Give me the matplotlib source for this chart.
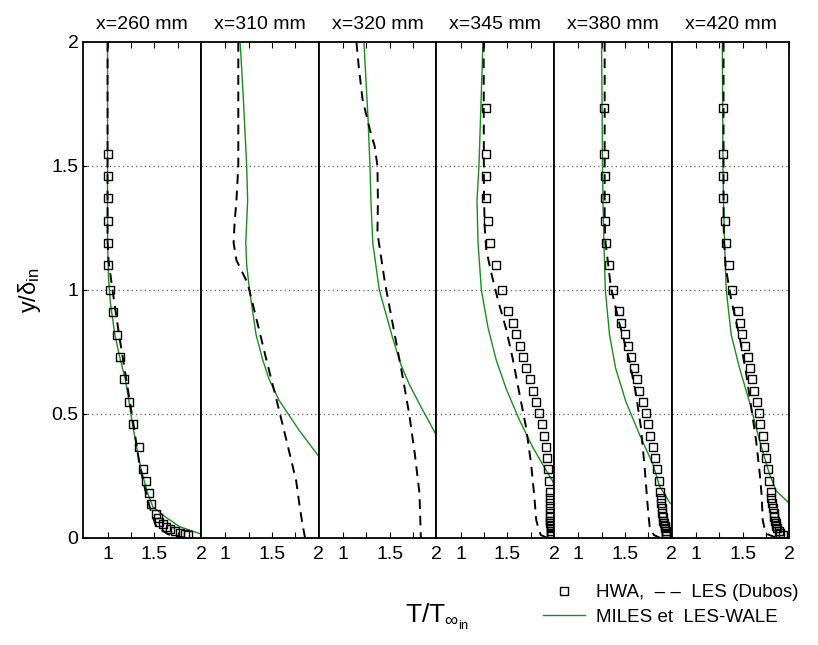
import numpy as np
import matplotlib
matplotlib.use("Agg")
import matplotlib.pyplot as plt
from matplotlib.lines import Line2D

plt.rcParams['font.family'] = ['Liberation Sans', 'DejaVu Sans']
plt.rcParams['mathtext.default'] = 'regular'

titles = ["x=260 mm", "x=310 mm", "x=320 mm", "x=345 mm", "x=380 mm", "x=420 mm"]

# --- HWA (squares) ---
hwa_y1 = [1.55, 1.46, 1.37, 1.28, 1.19, 1.10, 1.0, 0.91, 0.82, 0.73, 0.64, 0.55, 0.46, 0.365,
          0.277, 0.23, 0.183, 0.137, 0.096, 0.079, 0.066, 0.055, 0.046, 0.036, 0.028, 0.021, 0.016, 0.012]
hwa_t1 = [1.0, 1.0, 1.0, 1.0, 1.0, 1.006, 1.024, 1.053, 1.096, 1.134, 1.18, 1.23, 1.277, 1.333,
          1.383, 1.414, 1.443, 1.468, 1.521, 1.538, 1.556, 1.591, 1.627, 1.673, 1.727, 1.78, 1.833, 1.857]

hwa_y456 = [1.735, 1.55, 1.46, 1.37, 1.28, 1.19, 1.10, 1.0, 0.915, 0.868, 0.821, 0.776, 0.731, 0.687,
            0.64, 0.594, 0.547, 0.503, 0.458, 0.412, 0.366, 0.321, 0.277, 0.23, 0.187, 0.16, 0.14,
            0.12, 0.10, 0.085, 0.07, 0.06, 0.05, 0.04, 0.03, 0.02, 0.012]
hwa_t4 = [1.276, 1.27, 1.27, 1.276, 1.29, 1.318, 1.376, 1.447, 1.51, 1.56, 1.596, 1.635, 1.67, 1.70,
          1.74, 1.777, 1.81, 1.84, 1.868, 1.889, 1.914, 1.925, 1.939, 1.946, 1.953, 1.955, 1.957,
          1.958, 1.96, 1.96, 1.962, 1.962, 1.964, 1.965, 1.966, 1.967, 1.968]
hwa_t5 = [1.272, 1.272, 1.283, 1.283, 1.283, 1.30, 1.325, 1.37, 1.435, 1.46, 1.503, 1.538, 1.566, 1.60,
          1.63, 1.652, 1.69, 1.725, 1.75, 1.77, 1.796, 1.82, 1.84, 1.86, 1.875, 1.882, 1.89,
          1.895, 1.90, 1.907, 1.913, 1.92, 1.925, 1.93, 1.935, 1.94, 1.945]
hwa_t6 = [1.289, 1.289, 1.289, 1.295, 1.307, 1.325, 1.353, 1.389, 1.449, 1.474, 1.495, 1.53, 1.555, 1.58,
          1.60, 1.626, 1.65, 1.672, 1.687, 1.714, 1.733, 1.75, 1.768, 1.786, 1.80, 1.808, 1.815,
          1.823, 1.832, 1.84, 1.848, 1.855, 1.862, 1.87, 1.885, 1.905, 1.935]

# --- LES (Dubos), dashed ---
les_t1 = [1.0, 1.0, 1.01, 1.053, 1.123, 1.2, 1.277, 1.34, 1.40, 1.45, 1.52, 1.65, 1.84]
les_y1 = [2.0, 1.2, 1.12, 1.0, 0.82, 0.64, 0.46, 0.30, 0.20, 0.126, 0.046, 0.015, 0.0]
les_t2 = [1.14, 1.14, 1.12, 1.10, 1.09, 1.12, 1.24, 1.33, 1.44, 1.55, 1.655, 1.76, 1.80, 1.83, 1.855]
les_y2 = [2.0, 1.5, 1.36, 1.27, 1.19, 1.12, 1.027, 0.89, 0.72, 0.556, 0.395, 0.23, 0.12, 0.05, 0.0]
les_t3 = [1.145, 1.17, 1.21, 1.29, 1.34, 1.37, 1.375, 1.37, 1.45, 1.54, 1.64, 1.71, 1.77, 1.82, 1.835]
les_y3 = [2.0, 1.9, 1.77, 1.645, 1.58, 1.5, 1.36, 1.23, 1.03, 0.85, 0.65, 0.50, 0.34, 0.18, 0.0]
les_t4 = [1.247, 1.25, 1.258, 1.276, 1.33, 1.40, 1.49, 1.56, 1.63, 1.70, 1.755, 1.79, 1.81, 1.84, 1.86, 1.93]
les_y4 = [2.0, 1.4, 1.255, 1.16, 1.067, 0.96, 0.84, 0.72, 0.583, 0.449, 0.30, 0.167, 0.073, 0.03, 0.012, 0.0]
les_t5 = [1.283, 1.283, 1.29, 1.35, 1.44, 1.546, 1.617, 1.67, 1.71, 1.735, 1.75, 1.765, 1.81, 1.88]
les_y5 = [2.0, 1.3, 1.2, 1.01, 0.866, 0.718, 0.583, 0.449, 0.29, 0.17, 0.10, 0.046, 0.012, 0.0]
les_t6 = [1.296, 1.296, 1.30, 1.318, 1.378, 1.467, 1.538, 1.591, 1.644, 1.687, 1.705, 1.715, 1.74, 1.768, 1.87]
les_y6 = [2.0, 1.3, 1.2, 1.094, 0.96, 0.812, 0.664, 0.53, 0.395, 0.247, 0.167, 0.073, 0.03, 0.015, 0.0]

# --- MILES et LES-WALE, green ---
mil_t1 = [1.0, 1.0, 1.0, 1.01, 1.03, 1.078, 1.13, 1.19, 1.23, 1.266, 1.31, 1.357, 1.43, 1.485, 1.627, 1.77, 2.0]
mil_y1 = [2.0, 1.5, 1.2, 1.05, 0.95, 0.82, 0.73, 0.64, 0.55, 0.46, 0.37, 0.28, 0.18, 0.126, 0.083, 0.046, 0.016]
mil_t2 = [1.16, 1.19, 1.23, 1.24, 1.22, 1.23, 1.26, 1.33, 1.40, 1.47, 1.575, 1.79, 2.0]
mil_y2 = [2.0, 1.8, 1.5, 1.36, 1.19, 1.10, 1.0, 0.82, 0.72, 0.64, 0.556, 0.435, 0.33]
mil_t3 = [1.225, 1.268, 1.29, 1.30, 1.32, 1.39, 1.53, 1.62, 1.71, 1.82, 2.0]
mil_y3 = [2.0, 1.7, 1.5, 1.36, 1.19, 1.0, 0.81, 0.70, 0.62, 0.54, 0.415]
mil_t4 = [1.24, 1.197, 1.176, 1.187, 1.223, 1.293, 1.38, 1.49, 1.63, 1.77, 1.914, 2.0]
mil_y4 = [2.0, 1.5, 1.36, 1.19, 1.0, 0.85, 0.72, 0.60, 0.476, 0.368, 0.274, 0.22]
mil_t5 = [1.25, 1.26, 1.265, 1.275, 1.29, 1.335, 1.40, 1.51, 1.655, 1.80, 1.87, 1.985]
mil_y5 = [2.0, 1.5, 1.36, 1.19, 1.0, 0.82, 0.685, 0.55, 0.418, 0.297, 0.21, 0.14]
mil_t6 = [1.283, 1.29, 1.296, 1.307, 1.325, 1.378, 1.467, 1.573, 1.68, 1.786, 1.86, 2.0]
mil_y6 = [2.0, 1.5, 1.36, 1.19, 1.0, 0.82, 0.685, 0.55, 0.395, 0.26, 0.19, 0.14]

hwa = [(hwa_t1, hwa_y1), None, None, (hwa_t4, hwa_y456), (hwa_t5, hwa_y456), (hwa_t6, hwa_y456)]
les = [(les_t1, les_y1), (les_t2, les_y2), (les_t3, les_y3), (les_t4, les_y4), (les_t5, les_y5), (les_t6, les_y6)]
mil = [(mil_t1, mil_y1), (mil_t2, mil_y2), (mil_t3, mil_y3), (mil_t4, mil_y4), (mil_t5, mil_y5), (mil_t6, mil_y6)]

fig, axes = plt.subplots(1, 6, figsize=(8.18, 6.45), dpi=100, sharey=True)
fig.subplots_adjust(left=0.1018, right=0.9649, top=0.9349, bottom=0.1659, wspace=0)

for i, ax in enumerate(axes):
    for yg in [0.5, 1.0, 1.5]:
        ax.axhline(yg, color='0.35', lw=0.9, ls=(0, (1, 2.5)), zorder=1)
    t, y = mil[i]
    ax.plot(t, y, color='#1c8c1c', lw=1.0, zorder=2)
    t, y = les[i]
    ax.plot(t, y, color='k', lw=1.4, ls=(0, (5, 3.5)), zorder=3)
    if hwa[i] is not None:
        t, y = hwa[i]
        ax.plot(t, y, ls='none', marker='s', ms=5.6, mfc='none', mec='k', mew=1.0, zorder=4)
    ax.set_xlim(0.74, 2.0)
    ax.set_ylim(0, 2)
    ax.set_xticks([1, 1.5, 2])
    ax.set_xticklabels(["1", "1.5", "2"])
    ax.set_xticks([1.25, 1.75], minor=True)
    ax.tick_params(axis='x', which='both', direction='in', top=True, length=4, width=0.8,
                   labelsize=14, pad=6)
    ax.tick_params(axis='y', which='both', direction='in', left=(i == 0), right=False,
                   length=3, width=0.8, labelsize=14)
    for sp in ax.spines.values():
        sp.set_linewidth(1.3)
    ax.set_title(titles[i], fontsize=14, pad=9)

axes[0].set_yticks([0, 0.5, 1, 1.5, 2])
axes[0].set_yticklabels(["0", "0.5", "1", "1.5", "2"])
axes[0].set_ylabel(r'y/$\delta_{in}$', fontsize=17, labelpad=6)

fig.text(0.535, 0.035, r'T/T$_{\infty_{in}}$', fontsize=19, ha='center', va='baseline')

handles = [Line2D([], [], ls='none', marker='s', ms=5.6, mfc='none', mec='k', mew=1.0),
           Line2D([], [], color='#1c8c1c', lw=1.0)]
labels = ["HWA,  \u2013 \u2013  LES (Dubos)", "MILES et  LES-WALE"]
fig.legend(handles, labels, loc='upper left', bbox_to_anchor=(0.655, 0.106),
           frameon=False, fontsize=13.5, handlelength=2.2, handletextpad=0.6,
           labelspacing=0.4, borderaxespad=0)

fig.savefig("out.png", dpi=100)
